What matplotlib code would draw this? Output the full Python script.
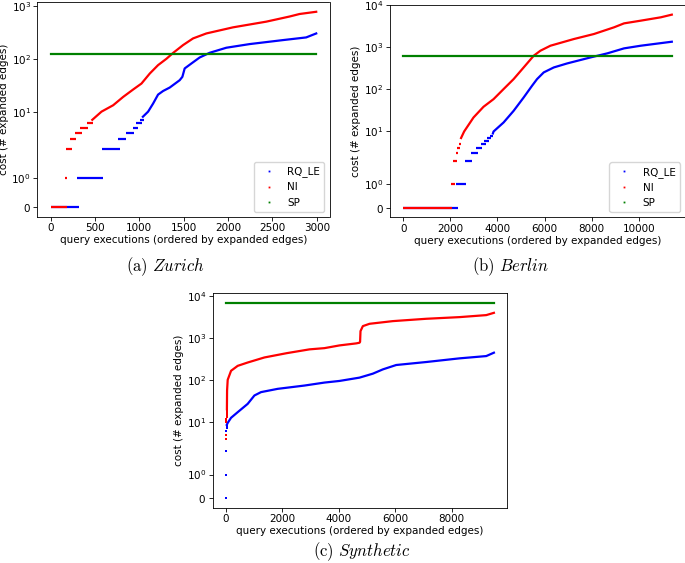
import matplotlib
matplotlib.use("Agg")
import matplotlib.pyplot as plt
from matplotlib.lines import Line2D

plt.rcParams['font.size'] = 7.5
plt.rcParams['axes.linewidth'] = 0.6
plt.rcParams['xtick.major.width'] = 0.6
plt.rcParams['ytick.major.width'] = 0.6
plt.rcParams['xtick.major.size'] = 2.6
plt.rcParams['ytick.major.size'] = 2.6
plt.rcParams['xtick.minor.size'] = 0
plt.rcParams['ytick.minor.size'] = 0
plt.rcParams['mathtext.fontset'] = 'cm'

series_names = ["RQ_LE", "NI", "SP"]
series_colors = ["b", "r", "g"]
captions = [r"$\mathrm{(a)}\ Zurich$", r"$\mathrm{(b)}\ Berlin$", r"$\mathrm{(c)}\ Synthetic$"]
xlabel = "query executions (ordered by expanded edges)"
ylabel = "cost (# expanded edges)"

# ---------------- Zurich ----------------
zur_ni_step_val = [0, 1, 2, 3, 4, 5, 6]
zur_ni_step_x0 = [0, 165, 172, 224, 273, 337, 408]
zur_ni_step_x1 = [180, 190, 239, 292, 359, 423, 475]
zur_ni_x = [470, 574, 705, 818, 930, 1024, 1118, 1211, 1305, 1380, 1493, 1605, 1755, 2055, 2430, 2693, 2805, 2993]
zur_ni_y = [7, 10, 13.2, 19, 26.2, 34, 52.7, 75.9, 100, 129, 182, 243, 302, 394, 505, 632, 705, 777]

zur_rq_step_val = [0, 1, 2, 3, 4, 5, 6, 7]
zur_rq_step_x0 = [0, 303, 576, 759, 845, 927, 965, 1010]
zur_rq_step_x1 = [321, 591, 778, 853, 939, 987, 1025, 1050]
zur_rq_x = [1040, 1099, 1155, 1211, 1268, 1343, 1455, 1485, 1511, 1586, 1680, 1793, 1980, 2243, 2618, 2880, 2993]
zur_rq_y = [8, 10, 14.2, 21, 24.6, 28.6, 39.4, 45.6, 65.7, 81.4, 106, 130, 162, 190, 226, 254, 302]

zur_sp_x = [0, 2993]
zur_sp_y = [123, 123]

# ---------------- Berlin ----------------
ber_ni_step_val = [0, 1, 2, 3, 4, 5]
ber_ni_step_x0 = [0, 2016, 2115, 2228, 2298, 2369]
ber_ni_step_x1 = [2087, 2186, 2284, 2341, 2397, 2453]
ber_ni_x = [2455, 2585, 2982, 3408, 3834, 4260, 4686, 5112, 5538, 5822, 6248, 7242, 8094, 8946, 9372, 10082, 10934, 11400]
ber_ni_y = [7, 10, 21.5, 38.7, 58.8, 102, 176, 333, 632, 832, 1094, 1577, 2075, 2992, 3717, 4310, 5180, 5990]

ber_rq_step_val = [0, 1, 2, 3, 4, 5, 6, 7, 8]
ber_rq_step_x0 = [0, 2256, 2608, 2863, 3101, 3285, 3426, 3567, 3666]
ber_rq_step_x1 = [2326, 2679, 2932, 3187, 3356, 3497, 3638, 3723, 3807]
ber_rq_x = [3807, 3834, 4260, 4686, 5112, 5467, 5680, 5964, 6390, 6958, 7952, 8662, 9372, 10082, 11400]
ber_rq_y = [9, 10, 16.4, 31, 64.4, 122, 176, 254, 333, 415, 577, 720, 946, 1094, 1361]

ber_sp_x = [0, 11400]
ber_sp_y = [621, 621]

# ---------------- Synthetic ----------------
syn_ni_dot_x = [0, 3, 6, 9, 12, 15, 18, 21, 24, 27]
syn_ni_dot_y = [4, 5, 10, 11, 12, 13, 14, 15, 16, 18]
syn_ni_x = [29, 35, 57, 176, 412, 766, 1358, 2147, 2957, 3490, 4022, 4614, 4732, 4753, 4768, 4851, 5087, 5915, 7098, 8281, 9228, 9500]
syn_ni_y = [20, 55.7, 100, 164, 215, 258, 340, 430, 530, 567, 658, 735, 762, 800, 1440, 1893, 2150, 2490, 2830, 3100, 3460, 3920]

syn_rq_dot_x = [0, 0, 0, 5, 10, 15, 20]
syn_rq_dot_y = [0, 1, 2, 5, 6, 7, 8]
syn_rq_x = [24, 59, 176, 412, 766, 1005, 1240, 1831, 2777, 3490, 4022, 4732, 5205, 5560, 6034, 7098, 8281, 9228, 9500]
syn_rq_y = [8.5, 9.5, 12.5, 17, 26.8, 42.4, 51, 61, 73, 86, 94, 112.7, 140, 177, 225, 265, 324, 367, 442]

syn_sp_x = [0, 9500]
syn_sp_y = [6700, 6700]

W, H = 685, 563
fig = plt.figure(figsize=(W / 100, H / 100), dpi=100)


def rect(l, r, t, b):
    return [l / W, 1 - b / H, (r - l) / W, (b - t) / H]


LW = 1.6


def draw(ax, rq, ni, sp, legend):
    c_rq, c_ni, c_sp = series_colors
    # RQ_LE
    if rq.get("steps"):
        v, x0, x1 = rq["steps"]
        ax.hlines(v, x0, x1, colors=c_rq, lw=LW)
    if rq.get("dots"):
        ax.plot(rq["dots"][0], rq["dots"][1], 's', color=c_rq, ms=1.6, mew=0)
    ax.plot(rq["x"], rq["y"], '-', color=c_rq, lw=LW)
    # NI
    if ni.get("steps"):
        v, x0, x1 = ni["steps"]
        ax.hlines(v, x0, x1, colors=c_ni, lw=LW)
    if ni.get("dots"):
        ax.plot(ni["dots"][0], ni["dots"][1], 's', color=c_ni, ms=1.6, mew=0)
    ax.plot(ni["x"], ni["y"], '-', color=c_ni, lw=LW)
    # SP
    ax.plot(sp[0], sp[1], '-', color=c_sp, lw=LW)
    ax.set_yscale('symlog', linthresh=2, linscale=1)
    ax.margins(x=0.05, y=0.05)
    ax.set_xlabel(xlabel, labelpad=1.5)
    ax.set_ylabel(ylabel, labelpad=2)
    ax.tick_params(pad=2)
    if legend:
        handles = [Line2D([], [], ls='none', marker='s', ms=1.3, mew=0, color=c) for c in series_colors]
        ax.legend(handles, series_names, loc='lower right', fontsize=7.5,
                  framealpha=0.8, edgecolor='0.8', fancybox=True)


ax1 = fig.add_axes(rect(37.3, 329.5, 2, 217))
draw(ax1,
     dict(steps=(zur_rq_step_val, zur_rq_step_x0, zur_rq_step_x1), x=zur_rq_x, y=zur_rq_y),
     dict(steps=(zur_ni_step_val, zur_ni_step_x0, zur_ni_step_x1), x=zur_ni_x, y=zur_ni_y),
     (zur_sp_x, zur_sp_y), True)

ax2 = fig.add_axes(rect(389.8, 685, 5, 217.3))
draw(ax2,
     dict(steps=(ber_rq_step_val, ber_rq_step_x0, ber_rq_step_x1), x=ber_rq_x, y=ber_rq_y),
     dict(steps=(ber_ni_step_val, ber_ni_step_x0, ber_ni_step_x1), x=ber_ni_x, y=ber_ni_y),
     (ber_sp_x, ber_sp_y), True)
ax2.set_xlim(-570, 11960)

ax3 = fig.add_axes(rect(212.7, 507.3, 293.3, 507.7))
draw(ax3,
     dict(dots=(syn_rq_dot_x, syn_rq_dot_y), x=syn_rq_x, y=syn_rq_y),
     dict(dots=(syn_ni_dot_x, syn_ni_dot_y), x=syn_ni_x, y=syn_ni_y),
     (syn_sp_x, syn_sp_y), False)

fig.text(165.5 / W, 1 - 271.5 / H, captions[0], ha='center', va='baseline', fontsize=12)
fig.text(511 / W, 1 - 271.5 / H, captions[1], ha='center', va='baseline', fontsize=12)
fig.text(362 / W, 1 - 556 / H, captions[2], ha='center', va='baseline', fontsize=12)

fig.savefig("out.png", dpi=100)
